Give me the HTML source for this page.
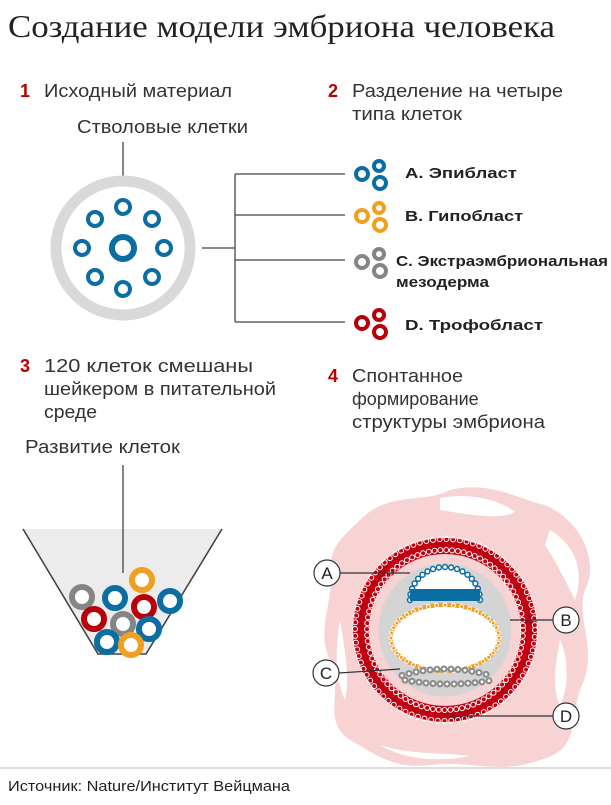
<!DOCTYPE html>
<html><head><meta charset="utf-8"><style>
body{margin:0;width:611px;height:800px;background:#fff;overflow:hidden;font-family:"Liberation Sans","DejaVu Sans",sans-serif;color:#222}
</style></head><body>
<svg id="s" width="611" height="800" xmlns="http://www.w3.org/2000/svg" font-family="Liberation Sans, DejaVu Sans, sans-serif">
<text x="8" y="37" font-family="Liberation Serif, DejaVu Serif, serif" font-size="32" fill="#222" textLength="547" lengthAdjust="spacingAndGlyphs">Создание модели эмбриона человека</text>
<g font-size="18" fill="#333">
<text x="20" y="97" fill="#b80000" font-weight="bold">1</text><text x="44" y="97" textLength="188" lengthAdjust="spacingAndGlyphs">Исходный материал</text>
<text x="328" y="97" fill="#b80000" font-weight="bold">2</text><text x="352" y="97" textLength="211" lengthAdjust="spacingAndGlyphs">Разделение на четыре</text><text x="352" y="120" textLength="110" lengthAdjust="spacingAndGlyphs">типа клеток</text>
<text x="77" y="133" textLength="171" lengthAdjust="spacingAndGlyphs">Стволовые клетки</text>
<text x="20" y="372" fill="#b80000" font-weight="bold">3</text><text x="44" y="372" textLength="209" lengthAdjust="spacingAndGlyphs">120 клеток смешаны</text><text x="44" y="395" textLength="232" lengthAdjust="spacingAndGlyphs">шейкером в питательной</text><text x="44" y="418" textLength="53" lengthAdjust="spacingAndGlyphs">среде</text>
<text x="328" y="382" fill="#b80000" font-weight="bold">4</text><text x="352" y="382" textLength="111" lengthAdjust="spacingAndGlyphs">Спонтанное</text><text x="352" y="405">формирование</text><text x="352" y="428" textLength="193" lengthAdjust="spacingAndGlyphs">структуры эмбриона</text>
<text x="25" y="453" textLength="155" lengthAdjust="spacingAndGlyphs">Развитие клеток</text>
</g>
<line x1="123" y1="142" x2="123" y2="200" stroke="#444" stroke-width="1.3"/>
<circle cx="123" cy="248" r="67" fill="#fff" stroke="#d9d9d9" stroke-width="11"/>
<g fill="none" stroke="#0b6ea3" stroke-width="4">
<circle cx="123" cy="207" r="7"/><circle cx="95" cy="219" r="7"/><circle cx="152" cy="219" r="7"/>
<circle cx="82" cy="248" r="7"/><circle cx="164" cy="248" r="7"/><circle cx="95" cy="277" r="7"/>
<circle cx="152" cy="277" r="7"/><circle cx="123" cy="289" r="7"/>
<circle cx="123" cy="248" r="11" stroke-width="6"/></g>
<g stroke="#444" stroke-width="1.3" fill="none">
<path d="M202 248H235M235 174V322M235 174H345M235 215H345M235 260H345M235 322H345"/>
</g>
<g id="legend"></g>
<g font-size="15" font-weight="bold" fill="#222">
<text x="405" y="178" textLength="112" lengthAdjust="spacingAndGlyphs">A. Эпибласт</text>
<text x="405" y="221" textLength="118" lengthAdjust="spacingAndGlyphs">B. Гипобласт</text>
<text x="396" y="266" textLength="212" lengthAdjust="spacingAndGlyphs">C. Экстраэмбриональная</text>
<text x="396" y="287" textLength="93" lengthAdjust="spacingAndGlyphs">мезодерма</text>
<text x="405" y="330" textLength="138" lengthAdjust="spacingAndGlyphs">D. Трофобласт</text>
</g>
<path d="M23 529H222L146 654H98Z" fill="#ececec"/>
<path d="M23 529L98 654H146L222 529" fill="none" stroke="#444" stroke-width="1.6"/>
<line x1="123" y1="465" x2="123" y2="573" stroke="#444" stroke-width="1.3"/>
<g id="balls" fill="none" stroke-width="6"></g>
<path d="M360 520C390 490 420 505 450 490C490 480 520 500 545 505C580 520 600 560 585 590C575 620 600 650 580 690C570 720 580 750 540 760C500 775 470 760 430 765C390 770 370 750 350 740C320 720 345 690 330 660C315 630 335 600 330 570C330 545 345 535 360 520Z" fill="#f7d3d4"/>
<g fill="#fff">
<path d="M440 498C470 492 500 500 515 512C500 520 470 515 440 510Z"/>
<path d="M550 530C575 545 585 570 575 600C565 580 555 560 545 545Z"/>
<path d="M340 620C345 650 350 680 345 700C335 680 335 650 340 620Z"/>
<path d="M380 745C410 755 440 752 470 756C440 762 405 760 380 745Z"/>
<path d="M560 640C570 660 568 690 560 705C552 690 555 665 560 640Z"/>
</g>
<g id="emb"></g>
<g stroke="#333" stroke-width="1.2" fill="#fff">
<line x1="340" y1="573" x2="410" y2="573"/><line x1="510" y1="620" x2="553" y2="620"/>
<line x1="339" y1="673" x2="400" y2="669"/><line x1="450" y1="716" x2="553" y2="716"/>
<circle cx="327" cy="573" r="13"/><circle cx="566" cy="620" r="13"/><circle cx="326" cy="673" r="13"/><circle cx="566" cy="716" r="13"/>
</g>
<g font-size="17" fill="#222" text-anchor="middle">
<text x="327" y="579">A</text><text x="566" y="626">B</text><text x="326" y="679">C</text><text x="566" y="722">D</text></g>
<line x1="0" y1="768" x2="611" y2="768" stroke="#bbb" stroke-width="1"/>
<text x="8" y="791" font-size="15" fill="#222" textLength="282" lengthAdjust="spacingAndGlyphs">Источник: Nature/Институт Вейцмана</text>
</svg>
<script>
var NS="http://www.w3.org/2000/svg";
function c(g,x,y,r,st,sw,fill){var e=document.createElementNS(NS,"circle");e.setAttribute("cx",x);e.setAttribute("cy",y);e.setAttribute("r",r);e.setAttribute("stroke",st);e.setAttribute("stroke-width",sw);e.setAttribute("fill",fill||"none");document.getElementById(g).appendChild(e);}
var cols=["#0b6ea3","#f0a020","#858585","#b8000a"],ys=[174,216,262,323];
for(var i=0;i<4;i++){var y=ys[i];c("legend",362,y,6,cols[i],4);c("legend",379,y-8,5,cols[i],4);c("legend",380,y+9,6,cols[i],4);}
var B=[[82,597,"#858585"],[115,598,"#0b6ea3"],[142,580,"#f0a020"],[170,601,"#0b6ea3"],[94,619,"#b8000a"],[144,607,"#b8000a"],[123,624,"#858585"],[149,629,"#0b6ea3"],[107,642,"#0b6ea3"],[131,645,"#f0a020"]];
B.forEach(function(b){c("balls",b[0],b[1],10,b[2],6,"#fff")});
c("emb",445,630,84,"#c00010",16,"none");
c("emb",445,630,66,"#d4d4d4",1,"#d4d4d4");
for(var a=0;a<360;a+=4.3){var t=a*Math.PI/180;c("emb",445+78*Math.cos(t),630+80*Math.sin(t),2.5,"#fff",1,"none");c("emb",445+90*Math.cos(t),630+91*Math.sin(t),2.5,"#fff",1,"none");}
var e=document.createElementNS(NS,"path");e.setAttribute("d","M410 600Q412 565 445 565Q478 565 480 600Z");e.setAttribute("fill","#fff");document.getElementById("emb").appendChild(e);
for(var a=180;a<=360;a+=10){var t=a*Math.PI/180;c("emb",445+35*Math.cos(t),600+33*Math.sin(t),2.5,"#0b6ea3",1.5,"#fff");}
var r=document.createElementNS(NS,"rect");r.setAttribute("x",410);r.setAttribute("y",589);r.setAttribute("width",70);r.setAttribute("height",12);r.setAttribute("fill","#0b6ea3");document.getElementById("emb").appendChild(r);
var h=document.createElementNS(NS,"ellipse");h.setAttribute("cx",445);h.setAttribute("cy",638);h.setAttribute("rx",54);h.setAttribute("ry",33);h.setAttribute("fill","#fff");h.setAttribute("stroke","#f0a020");h.setAttribute("stroke-width",4);document.getElementById("emb").appendChild(h);
for(var a=0;a<360;a+=9){var t=a*Math.PI/180;c("emb",445+54*Math.cos(t),638+33*Math.sin(t),2,"#fff",1,"none");}
for(var x=402;x<=490;x+=7){c("emb",x,669+((x-446)*(x-446))/300,2.5,"#888",2,"#fff");c("emb",x+3,684-((x-446)*(x-446))/500,2.5,"#888",2,"#fff");}
</script>
</body></html>
